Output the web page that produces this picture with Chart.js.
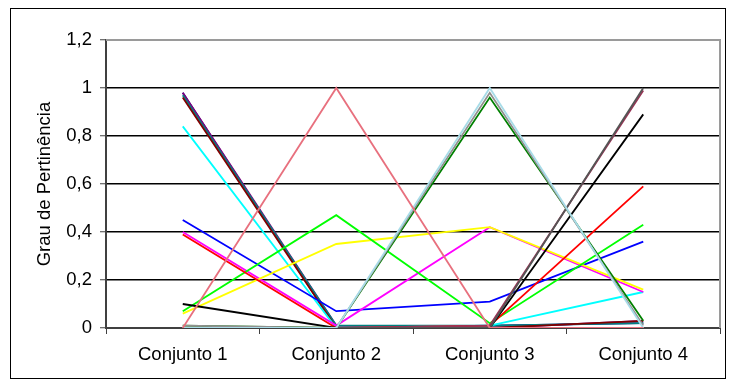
<!DOCTYPE html>
<html>
<head>
<meta charset="utf-8">
<script src="https://cdn.jsdelivr.net/npm/chart.js@4"></script>
<style>
  html, body { margin: 0; padding: 0; background: #fff; }
  #wrap { width: 736px; height: 387px; }
</style>
</head>
<body>
<div id="wrap"><canvas id="grauChart" width="736" height="387"></canvas></div>
<script>
// Categories (fuzzy sets) and y-axis range
const conjuntos = ["Conjunto 1", "Conjunto 2", "Conjunto 3", "Conjunto 4"];
const yTicks = [0, 0.2, 0.4, 0.6, 0.8, 1, 1.2];

// Membership degree of each element in the four sets
const elemNavy = [0.98, 0.0, 0.01, 0.02];
const elemPurple = [0.98, 0.01, 0.0, 0.03];
const elemTeal = [0.97, 0.01, 0.01, 0.02];
const elemDarkRed = [0.96, 0.0, 0.0, 0.03];
const elemCyan = [0.84, 0.0, 0.01, 0.15];
const elemBlue = [0.45, 0.07, 0.11, 0.36];
const elemMagenta = [0.40, 0.01, 0.42, 0.15];
const elemRed = [0.39, 0.0, 0.01, 0.59];
const elemBlack = [0.10, 0.0, 0.0, 0.89];
const elemLime = [0.07, 0.47, 0.02, 0.43];
const elemYellow = [0.06, 0.35, 0.42, 0.16];
const elemPink = [0.0, 1.0, 0.0, 0.0];
const elemLightBlue = [0.0, 0.0, 1.0, 0.0];
const elemGray = [0.01, 0.0, 0.98, 0.01];
const elemGreen = [0.01, 0.0, 0.96, 0.03];
const elemDarkGray = [0.0, 0.0, 0.0, 1.0];
const elemPlum = [0.0, 0.0, 0.01, 0.99];

const series = [
  [elemPink, "#E8707E"],
  [elemLightBlue, "#A8DCE8"],
  [elemGray, "#909090"],
  [elemGreen, "#008000"],
  [elemDarkGray, "#555555"],
  [elemPlum, "#993355"],
  [elemBlack, "#000000"],
  [elemRed, "#FF0000"],
  [elemLime, "#00FF00"],
  [elemYellow, "#FFFF00"],
  [elemMagenta, "#FF00FF"],
  [elemBlue, "#0000FF"],
  [elemCyan, "#00FFFF"],
  [elemDarkRed, "#800000"],
  [elemTeal, "#008080"],
  [elemPurple, "#800080"],
  [elemNavy, "#000080"]
];

const fmt = (v) => String(+v.toFixed(1)).replace(".", ",");

// white page with a thin black frame around the chart, grey plot border
const framePlugin = {
  id: "frame",
  beforeDraw(chart) {
    const ctx = chart.ctx;
    ctx.save();
    ctx.fillStyle = "#fff";
    ctx.fillRect(0, 0, chart.width, chart.height);
    ctx.strokeStyle = "#000";
    ctx.lineWidth = 1;
    ctx.strokeRect(10.5, 8.5, 715, 370);
    ctx.restore();
  },
  beforeDatasetsDraw(chart) {
    const a = chart.chartArea;
    const ctx = chart.ctx;
    ctx.save();
    ctx.strokeStyle = "#9a9a9a";
    ctx.lineWidth = 2;
    ctx.beginPath();
    ctx.moveTo(a.left, a.top);
    ctx.lineTo(a.right, a.top);
    ctx.lineTo(a.right, a.bottom);
    ctx.stroke();
    ctx.restore();
  }
};

Chart.defaults.font.family = "'Liberation Sans', Arial, sans-serif";
Chart.defaults.color = "#000";

new Chart(document.getElementById("grauChart"), {
  type: "line",
  data: {
    labels: conjuntos,
    datasets: series.map(([vals, color]) => ({
      data: vals,
      borderColor: color,
      borderWidth: 1.8,
      pointRadius: 0,
      tension: 0,
      fill: false
    }))
  },
  options: {
    responsive: false,
    animation: false,
    layout: { padding: { left: 0, top: 40, right: 16, bottom: 0 } },
    plugins: { legend: { display: false }, tooltip: { enabled: false } },
    scales: {
      x: {
        offset: true,
        grid: {
          offset: true,
          drawOnChartArea: false,
          tickLength: 6,
          tickColor: "#404040",
          tickWidth: 1
        },
        border: { color: "#404040", width: 2 },
        ticks: { padding: 10, font: { size: 18.5 }, maxRotation: 0 },
        afterFit(scale) { scale.height = 59; }
      },
      y: {
        min: 0,
        max: 1.2,
        afterBuildTicks(scale) { scale.ticks = yTicks.map((v) => ({ value: v })); },
        grid: {
          color: (c) => (c.tick && c.tick.value >= 1.2 ? "rgba(0,0,0,0)" : "#000"),
          lineWidth: 1.5,
          tickLength: 6,
          tickColor: "#404040",
          tickWidth: 1
        },
        border: { color: "#404040", width: 2 },
        ticks: { padding: 8, font: { size: 18.5 }, callback: (v) => fmt(v) },
        title: {
          display: true,
          text: "Grau de Pertinência",
          font: { size: 18.5 },
          padding: { top: 34, bottom: 0 }
        },
        afterFit(scale) { scale.width = 106; }
      }
    }
  },
  plugins: [framePlugin]
});
</script>
</body>
</html>
